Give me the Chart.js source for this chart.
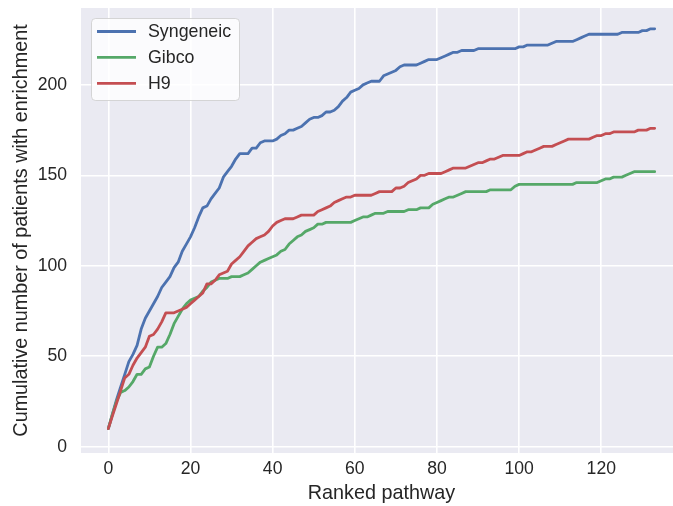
<!DOCTYPE html>
<html>
<head>
<meta charset="utf-8">
<script src="https://cdn.jsdelivr.net/npm/chart.js@4.4.0/dist/chart.umd.min.js"></script>
<style>
  html, body { margin: 0; padding: 0; background: #fff; overflow: hidden; }
  #wrap { width: 673px; height: 506px; overflow: hidden; }
</style>
</head>
<body>
<div id="wrap"><canvas id="line-chart" width="682" height="506"></canvas></div>
<script>
// cumulative number of patients with enrichment, by ranked pathway (0..133)
const syngeneic = [
  10, 18, 26, 33, 40, 47, 51, 56, 65, 71, 75, 79, 83, 88, 91, 94, 99, 102, 108, 112,
  116, 121, 127, 132, 133, 137, 140, 143, 149, 152, 155, 159, 162, 162, 162, 165, 165, 168, 169, 169,
  169, 170, 172, 173, 175, 175, 176, 177, 179, 181, 182, 182, 183, 185, 185, 186, 188, 191, 193, 196,
  197, 198, 200, 201, 202, 202, 202, 205, 206, 207, 208, 210, 211, 211, 211, 211, 212, 213, 214, 214,
  214, 215, 216, 217, 218, 218, 219, 219, 219, 219, 220, 220, 220, 220, 220, 220, 220, 220, 220, 220,
  221, 221, 222, 222, 222, 222, 222, 222, 223, 224, 224, 224, 224, 224, 225, 226, 227, 228, 228, 228,
  228, 228, 228, 228, 228, 229, 229, 229, 229, 229, 230, 230, 231, 231
];
const gibco = [
  10, 18, 25, 30, 31, 33, 36, 40, 40, 43, 44, 50, 55, 55, 57, 62, 68, 72, 76, 79,
  81, 82, 83, 86, 88, 91, 92, 93, 93, 93, 94, 94, 94, 95, 96, 98, 100, 102, 103, 104,
  105, 106, 108, 109, 112, 114, 116, 117, 119, 120, 121, 123, 123, 124, 124, 124, 124, 124, 124, 124,
  125, 126, 127, 127, 128, 129, 129, 129, 130, 130, 130, 130, 130, 131, 131, 131, 132, 132, 132, 134,
  135, 136, 137, 138, 138, 139, 140, 141, 141, 141, 141, 141, 141, 142, 142, 142, 142, 142, 142, 144,
  145, 145, 145, 145, 145, 145, 145, 145, 145, 145, 145, 145, 145, 145, 146, 146, 146, 146, 146, 146,
  147, 148, 148, 149, 149, 149, 150, 151, 152, 152, 152, 152, 152, 152
];
const h9 = [
  10, 17, 24, 31, 38, 40, 45, 49, 52, 55, 61, 62, 65, 69, 74, 74, 74, 75, 76, 77,
  79, 81, 83, 85, 90, 90, 92, 95, 96, 97, 101, 103, 105, 108, 111, 113, 115, 116, 117, 119,
  122, 124, 125, 126, 126, 126, 127, 128, 128, 128, 128, 130, 131, 132, 133, 135, 136, 137, 138, 138,
  139, 139, 139, 139, 139, 140, 141, 141, 141, 141, 143, 143, 144, 146, 147, 148, 150, 150, 151, 151,
  151, 151, 152, 153, 154, 154, 154, 154, 155, 156, 157, 157, 158, 159, 159, 160, 161, 161, 161, 161,
  161, 162, 163, 163, 164, 165, 166, 166, 166, 167, 168, 169, 170, 170, 170, 170, 170, 170, 171, 172,
  172, 173, 173, 174, 174, 174, 174, 174, 174, 175, 175, 175, 176, 176
];
const seriesNames = ["Syngeneic", "Gibco", "H9"];
const ranks = syngeneic.map((v, i) => i);
const pathwayTicks = [0, 20, 40, 60, 80, 100, 120];
const patientTicks = [0, 50, 100, 150, 200];

const FONT = "'Liberation Sans', Arial, sans-serif";
const INK = "#262626";

const darkgrid = {
  id: 'darkgrid',
  beforeDraw(chart) {
    const a = chart.chartArea, ctx = chart.ctx;
    ctx.save();
    ctx.fillStyle = "#EAEAF2";
    ctx.fillRect(a.left, a.top, a.right - a.left, a.bottom - a.top);
    ctx.restore();
  }
};

const legendBox = {
  id: 'legendBox',
  afterDatasetsDraw(chart) {
    const ctx = chart.ctx, a = chart.chartArea;
    const x = a.left + 10, y = a.top + 10, w = 148, h = 82;
    ctx.save();
    ctx.beginPath();
    ctx.roundRect(x + 0.5, y + 0.5, w, h, 4);
    ctx.fillStyle = "rgba(255,255,255,0.8)";
    ctx.fill();
    ctx.strokeStyle = "rgba(204,204,204,0.8)";
    ctx.lineWidth = 1;
    ctx.stroke();
    ctx.font = "17.8px " + FONT;
    ctx.textBaseline = "middle";
    chart.data.datasets.forEach((ds, i) => {
      const ry = y + 13.5 + i * 25.9;
      ctx.beginPath();
      ctx.moveTo(x + 6, ry);
      ctx.lineTo(x + 45, ry);
      ctx.strokeStyle = ds.borderColor;
      ctx.lineWidth = 2.8;
      ctx.stroke();
      ctx.fillStyle = INK;
      ctx.fillText(ds.label, x + 57, ry + 1);
    });
    ctx.restore();
  }
};

new Chart(document.getElementById("line-chart"), {
  type: 'line',
  data: {
    labels: ranks,
    datasets: [{
        data: syngeneic,
        label: seriesNames[0],
        borderColor: "#4C72B0",
        order: 2
      },
      {
        data: gibco,
        label: seriesNames[1],
        borderColor: "#55A868",
        order: 1
      },
      {
        data: h9,
        label: seriesNames[2],
        borderColor: "#C44E52",
        order: 0
      }
    ]
  },
  options: {
    responsive: false,
    animation: false,
    events: [],
    layout: { padding: { left: 0, right: 0, top: 8, bottom: 0 } },
    elements: {
      point: { radius: 0 },
      line: { borderWidth: 2.8, tension: 0, fill: false, borderCapStyle: 'round', borderJoinStyle: 'round' }
    },
    plugins: {
      legend: { display: false },
      tooltip: { enabled: false }
    },
    scales: {
      x: {
        type: 'linear',
        min: -6.65,
        max: 139.65,
        afterBuildTicks: axis => { axis.ticks = pathwayTicks.map(v => ({ value: v })); },
        afterFit: axis => { axis.height = 53; axis.paddingLeft = 0; axis.paddingRight = 0; },
        grid: { color: "#ffffff", lineWidth: 1.6, drawTicks: false },
        border: { display: false },
        ticks: { color: INK, font: { family: FONT, size: 17.6 }, padding: 6, maxRotation: 0 },
        title: { display: true, text: "Ranked pathway", color: INK, font: { family: FONT, size: 19.8 }, padding: { top: 0, bottom: 1 } }
      },
      y: {
        min: -3.5,
        max: 242.5,
        afterBuildTicks: axis => { axis.ticks = patientTicks.map(v => ({ value: v })); },
        afterFit: axis => { axis.width = 81; axis.paddingTop = 0; axis.paddingBottom = 0; },
        grid: { color: "#ffffff", lineWidth: 1.6, drawTicks: false },
        border: { display: false },
        ticks: { color: INK, font: { family: FONT, size: 17.6 }, padding: 14 },
        title: { display: true, text: "Cumulative number of patients with enrichment", color: INK, font: { family: FONT, size: 19.8 }, padding: { top: 10, bottom: 0 } }
      }
    }
  },
  plugins: [darkgrid, legendBox]
});
</script>
</body>
</html>
